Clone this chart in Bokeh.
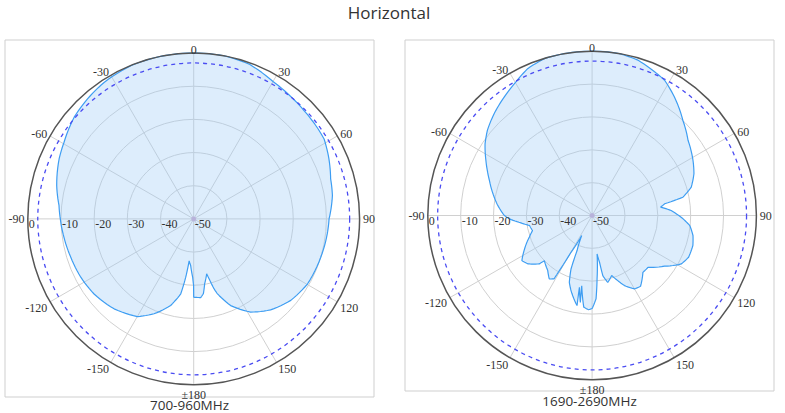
import numpy as np
from bokeh.plotting import figure
from bokeh.models import Range1d
from bokeh.core.properties import value
from bokeh.embed import file_html
from bokeh.resources import INLINE

# ---------------- data ----------------
TITLE = "Horizontal"
band_names = ["700-960MHz", "1690-2690MHz"]

# 700-960MHz horizontal pattern (azimuth deg, relative gain dB)
low_angle = [-180, -179.9, -179, -176.3, -173.8, -172.2, -170.2, -165.1, -157.3, -150,
             -138.5, -127, -117.3, -107.3, -98, -90, -84.3, -76.3, -66, -59.4,
             -49.6, -41.5, -33.3, -22.3, -11.5, 0, 10.5, 20, 30, 38,
             45.5, 58.5, 66, 73.7, 80.4, 87, 90, 96.4, 106.8, 119.8,
             130, 139.8, 148.6, 156.9, 162.5, 163.8, 165.6, 166.7, 170.4, 172.6,
             174.9, 180]
low_gain = [-26.4, -30.0, -32.4, -35.9, -37.3, -32.2, -27.1, -23.0, -19.0, -16.0,
            -13.8, -12.4, -11.7, -11.2, -10.5, -9.8, -9.2, -7.5, -5.6, -4.6,
            -2.7, -1.7, -0.8, -0.1, 0.0, 0.0, 0.0, -0.5, -2.2, -2.9,
            -3.4, -3.9, -5.4, -7.0, -7.6, -8.7, -9.2, -9.5, -10.0, -10.5,
            -11.8, -14.1, -17.1, -21.6, -26.4, -28.1, -31.4, -33.0, -30.2, -27.3,
            -26.2, -26.4]

# 1690-2690MHz horizontal pattern (azimuth deg, relative gain dB)
high_angle = [-180, -177.8, -174.8, -171.6, -172.3, -170.0, -170.5, -164.4, -161.2, -158.5,
              -156.8, -152.7, -150.2, -149.3, -149.0, -146, -141.1, -133.4, -132.5, -126.9,
              -122.7, -117.3, -109, -104.2, -99, -95.9, -92.3, -90, -83.5, -79.4,
              -71.2, -67, -62.6, -56.2, -50.8, -43.9, -36.5, -29.7, -23.7, -16.9,
              -8.5, 0, 9, 16.4, 23.5, 28.2, 34.8, 43.7, 51.9, 61.3,
              67.7, 74, 78.6, 80.8, 83, 86.4, 92.1, 95.9, 101.2, 106.6,
              113.4, 118.5, 125, 132.9, 138.2, 145.6, 150, 155.2, 158.5, 161.9,
              166.8, 169.9, 171, 172.6, 175.5, 177.3, 179.6]
high_gain = [-21.7, -21.3, -22.0, -28.4, -23.3, -27.8, -22.2, -26.2, -28.5, -32.5,
             -38.4, -43.1, -37.1, -30.5, -27.5, -26.7, -28.5, -30.0, -28.2, -25.5,
             -24.6, -26.7, -29.8, -31.3, -30.7, -28.2, -24.8, -23.3, -21.0, -19.7,
             -17.0, -15.4, -13.6, -10.8, -8.9, -7.0, -5.1, -3.2, -1.2, -0.1,
             0.0, 0.0, 0.0, -0.7, -2.3, -3.3, -6.1, -10.0, -12.9, -15.0,
             -16.5, -18.6, -21.8, -27.6, -29.0, -25.9, -22.3, -20.1, -18.7, -18.0,
             -18.0, -19.1, -23.1, -26.8, -26.8, -23.9, -24.2, -26.5, -28.7, -30.8,
             -29.1, -31.4, -35.6, -38.2, -30.7, -24.6, -22.1]

angle_ticks = [0, 30, 60, 90, 120, 150, 180, -150, -120, -90, -60, -30]
angle_labels = ["0", "30", "60", "90", "120", "150", "\u00b1180", "-150", "-120", "-90", "-60", "-30"]
ring_levels = [0, -10, -20, -30, -40, -50]
ring_labels = ["0", "-10", "-20", "-30", "-40", "-50"]
half_power_db = -3
db_floor = -50

# ---------------- layout (pixels) ----------------
W, H = 785, 413
panels = [
    dict(cx=193.2, cy=218.4, R=165.9, box=(4.5, 39.5, 373.5, 396.5), sub=(189, 413),
         angle=low_angle, gain=low_gain),
    dict(cx=591.6, cy=215.0, R=164.3, box=(404.5, 39.5, 773.5, 390.5), sub=(589, 409),
         angle=high_angle, gain=high_gain),
]

p = figure(width=W, height=H, x_range=Range1d(0, W), y_range=Range1d(H, 0),
           min_border=0, toolbar_location=None, output_backend="svg",
           x_axis_location=None, y_axis_location=None)
p.grid.visible = False
p.outline_line_color = None
p.background_fill_color = "white"
p.border_fill_color = "white"

OPEN = value("Open Sans")
SERIF = value("Liberation Serif")

p.text(x=[W / 2 - 4], y=[12], text=[TITLE], text_font=OPEN, text_font_size="17px",
       text_color="#333333", text_align="center", text_baseline="middle")


def polar(panel, ang, db):
    ang = np.radians(np.asarray(ang, dtype=float))
    r = (np.asarray(db, dtype=float) - db_floor) / (0 - db_floor) * panel["R"]
    return panel["cx"] + r * np.sin(ang), panel["cy"] - r * np.cos(ang)


def polar_path(panel, ang, db, steps=6):
    # draw each segment between readings as a polar curve (not a chord)
    xs, ys = [], []
    for i in range(len(ang) - 1):
        t = np.linspace(0, 1, steps, endpoint=False)
        a = ang[i] + (ang[i + 1] - ang[i]) * t
        g = db[i] + (db[i + 1] - db[i]) * t
        x, y = polar(panel, a, g)
        xs.extend(x)
        ys.extend(y)
    x, y = polar(panel, [ang[-1]], [db[-1]])
    xs.extend(x)
    ys.extend(y)
    return xs, ys


for k, pn in enumerate(panels):
    l, t, r_, b = pn["box"]
    p.quad(left=[l], right=[r_], top=[t], bottom=[b], fill_color="white",
           line_color="#cfcfcf", line_width=1)
    cx, cy, R = pn["cx"], pn["cy"], pn["R"]
    # grid rings
    inner = [lv for lv in ring_levels if db_floor < lv < 0]
    radii = [(lv - db_floor) / (0 - db_floor) * R for lv in inner]
    p.circle(x=[cx] * len(radii), y=[cy] * len(radii), radius=radii,
             fill_color=None, line_color="#d0d0d0", line_width=1)
    # spokes
    sx, sy = polar(pn, angle_ticks, [0] * len(angle_ticks))
    p.segment(x0=[cx] * len(sx), y0=[cy] * len(sy), x1=sx, y1=sy,
              line_color="#d0d0d0", line_width=1)
    # pattern
    px, py = polar_path(pn, pn["angle"], pn["gain"])
    p.patch(x=px, y=py, fill_color="#9fcbf6", fill_alpha=0.35,
            line_color="#3d9df2", line_width=1.2)
    # center dot
    p.scatter(x=[cx], y=[cy], size=5, fill_color="#b3a6d9", line_color=None, alpha=0.7)
    # -3 dB dashed ring
    p.circle(x=[cx], y=[cy], radius=[(half_power_db - db_floor) / (0 - db_floor) * R],
             fill_color=None, line_color="#4a4cf2", line_width=1.3, line_dash="4 4")
    # outer ring
    p.circle(x=[cx], y=[cy], radius=[R], fill_color=None, line_color="#555555",
             line_width=1.5)
    # angle labels
    for a, lab in zip(angle_ticks, angle_labels):
        s, c = np.sin(np.radians(a)), np.cos(np.radians(a))
        x0, y0 = polar(pn, [a], [1.0])
        align = "left" if s > 0.01 else ("right" if s < -0.01 else "center")
        if c > 0.01:
            base = "alphabetic"
        elif c < -0.01:
            base = "top"
        else:
            base = "middle"
        p.text(x=list(x0), y=list(y0), text=[lab], text_font=SERIF, text_font_size="12px",
               text_color="#333333", text_align=align, text_baseline=base)
    # radial labels along -90
    lx, ly = polar(pn, [-90] * len(ring_levels), ring_levels)
    p.text(x=list(lx + 1), y=list(ly + 1), text=ring_labels, text_font=SERIF,
           text_font_size="12px", text_color="#333333", text_align="left",
           text_baseline="top")
    # subtitle
    p.text(x=[pn["sub"][0]], y=[pn["sub"][1]], text=[band_names[k]], text_font=OPEN,
           text_font_size="13.5px", text_color="#333333", text_align="center",
           text_baseline="bottom")

open("out.html", "w").write(file_html(p, INLINE))
